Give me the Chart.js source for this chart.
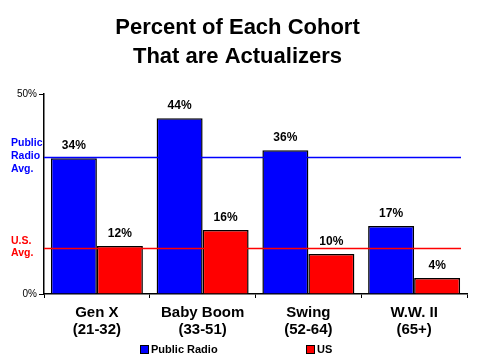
<!DOCTYPE html>
<html>
<head>
    <title>Actualizers by Cohort</title>
    <script src="https://cdn.jsdelivr.net/npm/chart.js"></script>
    <style>
        body { margin: 0; background: #fff; }
        #wrap { width: 480px; height: 360px; }
    </style>
</head>
<body>
    <div id="wrap">
        <canvas id="myChart" width="480" height="360"></canvas>
    </div>

    <script>
        // chart data
        var cohorts = [['Gen X', '(21-32)'], ['Baby Boom', '(33-51)'], ['Swing', '(52-64)'], ['W.W. II', '(65+)']];
        var publicRadio = [34, 44, 36, 17];
        var usValues = [12, 16, 10, 4];
        var averages = [34.4, 11.6];
        var avgLabels = [['Public', 'Radio', 'Avg.'], ['U.S.', 'Avg.']];
        var avgColors = ['#0000ff', '#ff0000'];
        var yTicks = [0, 50];

        var FONT = 'Arial, "Liberation Sans", sans-serif';

        // draws the average lines, their labels, the value labels and the legend
        var extrasPlugin = {
            id: 'extras',
            afterDatasetsDraw: function (chart) {
                var ctx = chart.ctx;
                var y = chart.scales.y;
                var area = chart.chartArea;
                ctx.save();

                // average lines
                for (var i = 0; i < averages.length; i++) {
                    var py = Math.round(y.getPixelForValue(averages[i])) + 0.5;
                    ctx.strokeStyle = avgColors[i];
                    ctx.lineWidth = 1.5;
                    ctx.beginPath();
                    ctx.moveTo(area.left, py);
                    ctx.lineTo(area.right - 6, py);
                    ctx.stroke();

                    ctx.fillStyle = avgColors[i];
                    ctx.font = 'bold 10.5px ' + FONT;
                    ctx.textAlign = 'left';
                    ctx.textBaseline = 'middle';
                    var lines = avgLabels[i];
                    var startY = i === 0 ? py - 14 : py - 7;
                    var step = i === 0 ? 13 : 12;
                    for (var j = 0; j < lines.length; j++) {
                        ctx.fillText(lines[j], 11, startY + j * step);
                    }
                }

                // value labels
                ctx.fillStyle = '#000';
                ctx.font = 'bold 12px ' + FONT;
                ctx.textAlign = 'center';
                ctx.textBaseline = 'bottom';
                chart.data.datasets.forEach(function (ds, di) {
                    chart.getDatasetMeta(di).data.forEach(function (bar, k) {
                        ctx.fillText(ds.data[k] + '%', bar.x, bar.y - 6);
                    });
                });

                // legend
                var legendX = [140, 306];
                ctx.font = 'bold 11px ' + FONT;
                ctx.textAlign = 'left';
                ctx.textBaseline = 'middle';
                chart.data.datasets.forEach(function (ds, di) {
                    var lx = legendX[di];
                    ctx.fillStyle = ds.backgroundColor;
                    ctx.fillRect(lx, 345, 9, 9);
                    ctx.strokeStyle = '#000';
                    ctx.lineWidth = 1;
                    ctx.strokeRect(lx + 0.5, 345.5, 8, 8);
                    ctx.fillStyle = '#000';
                    ctx.fillText(ds.label, lx + 11, 350);
                });
                ctx.restore();
            }
        };

        var ctx = document.getElementById('myChart').getContext('2d');
        var myChart = new Chart(ctx, {
            type: 'bar',
            data: {
                labels: cohorts,
                datasets: [{
                    label: 'Public Radio',
                    data: publicRadio,
                    backgroundColor: '#0000ff',
                    borderColor: '#000',
                    borderWidth: 1.5,
                    borderSkipped: 'bottom'
                }, {
                    label: 'US',
                    data: usValues,
                    backgroundColor: '#ff0000',
                    borderColor: '#000',
                    borderWidth: 1.5,
                    borderSkipped: 'bottom'
                }]
            },
            options: {
                responsive: false,
                animation: false,
                layout: { padding: { left: 8, right: 13, top: 0, bottom: 15 } },
                datasets: {
                    bar: { categoryPercentage: 0.87, barPercentage: 1.0 }
                },
                scales: {
                    x: {
                        offset: true,
                        grid: { display: true, offset: true, drawOnChartArea: false, drawTicks: true, tickLength: 4, color: '#000' },
                        border: { display: true, color: '#000', width: 1.5 },
                        ticks: {
                            color: '#000',
                            padding: 7,
                            font: { family: FONT, size: 15, weight: 'bold', lineHeight: 1.1 }
                        }
                    },
                    y: {
                        min: 0,
                        max: 50,
                        afterBuildTicks: function (axis) {
                            axis.ticks = yTicks.map(function (v) { return { value: v }; });
                        },
                        afterFit: function (axis) { axis.width = 36; },
                        grid: { display: true, drawOnChartArea: false, drawTicks: true, tickLength: 5, color: '#000' },
                        border: { display: true, color: '#000', width: 1.5 },
                        ticks: {
                            color: '#000',
                            padding: 2,
                            font: { family: FONT, size: 10 },
                            callback: function (v) { return v + '%'; }
                        }
                    }
                },
                plugins: {
                    title: {
                        display: true,
                        text: ['Percent of Each Cohort', 'That are Actualizers'],
                        color: '#000',
                        font: { family: FONT, size: 22, weight: 'bold', lineHeight: 1.3 },
                        padding: { top: 14, bottom: 23 }
                    },
                    legend: { display: false },
                    tooltip: { enabled: false }
                }
            },
            plugins: [extrasPlugin]
        });
    </script>
</body>
</html>
